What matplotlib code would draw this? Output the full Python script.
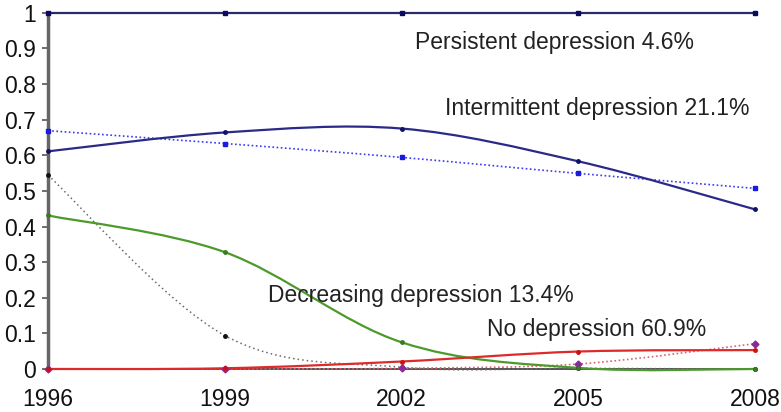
import matplotlib.pyplot as plt
import numpy as np
from matplotlib.patches import PathPatch
from matplotlib.path import Path

plt.rcParams["font.family"] = ["Liberation Sans", "DejaVu Sans"]

YEARS = [1996, 1999, 2002, 2005, 2008]

# estimated trajectories (solid) and observed proportions (dotted)
persistent = [1.0, 1.0, 1.0, 1.0, 1.0]
intermittent = [0.611, 0.664, 0.675, 0.583, 0.448]
intermittent_obs = [0.669, 0.633, 0.594, 0.549, 0.507]
decreasing = [0.431, 0.328, 0.075, 0.003, 0.0]
decreasing_obs = [0.544, 0.094, 0.005, 0.002, 0.0]
no_depression = [0.0, 0.002, 0.021, 0.049, 0.053]
no_depression_obs = [0.0, 0.0, 0.002, 0.014, 0.071]

LABELS = [
    ("Persistent depression 4.6%", 2002.23, 0.917),
    ("Intermittent depression 21.1%", 2002.74, 0.732),
    ("Decreasing depression 13.4%", 1999.73, 0.207),
    ("No depression 60.9%", 2003.45, 0.112),
]

Y_TICKS = [0, 0.1, 0.2, 0.3, 0.4, 0.5, 0.6, 0.7, 0.8, 0.9, 1]
Y_TICK_LABELS = ["0", "0.1", "0.2", "0.3", "0.4", "0.5", "0.6", "0.7", "0.8", "0.9", "1"]


def smooth_path(xs, ys):
    # Excel-style smoothed line: cubic Bezier segments through the points
    pts = np.column_stack([xs, ys]).astype(float)
    n = len(pts)
    verts = [pts[0]]
    codes = [Path.MOVETO]
    for i in range(n - 1):
        p0 = pts[i - 1] if i > 0 else pts[i]
        p1 = pts[i]
        p2 = pts[i + 1]
        p3 = pts[i + 2] if i + 2 < n else pts[i + 1]
        c1 = p1 + (p2 - p0) / 6.0
        c2 = p2 - (p3 - p1) / 6.0
        verts += [c1, c2, p2]
        codes += [Path.CURVE4] * 3
    return Path(verts, codes)


def draw_series(ax, values, color, lw, ls, marker, msize, mcolor, smooth=True):
    if smooth:
        patch = PathPatch(smooth_path(YEARS, values), fill=False, edgecolor=color,
                          lw=lw, ls=ls, clip_on=False, zorder=3)
        ax.add_patch(patch)
    else:
        ax.plot(YEARS, values, color=color, lw=lw, ls=ls, clip_on=False, zorder=3)
    ax.plot(YEARS, values, ls="none", marker=marker, ms=msize, color=mcolor,
            clip_on=False, zorder=4)


fig = plt.figure(figsize=(7.81, 4.12), dpi=100)
ax = fig.add_axes([0.0615, 0.1044, 0.9053, 0.8646])

draw_series(ax, intermittent_obs, "#3a3af5", 1.2, (0, (1, 1.5)), "s", 3, "#1a1ae0")
draw_series(ax, decreasing_obs, "#6a6a6a", 1.1, (0, (1, 2)), "o", 2.5, "#111111")
draw_series(ax, no_depression_obs, "#e06070", 1.2, (0, (1, 1.5)), "D", 3.5, "#8a2a9a")
draw_series(ax, decreasing, "#4c9a2c", 1.6, "-", "o", 2.5, "#3a7a20")
draw_series(ax, no_depression, "#dd2a2a", 1.6, "-", "o", 2.5, "#cc1111")
draw_series(ax, intermittent, "#2a2a88", 1.6, "-", "o", 2.5, "#111166")
draw_series(ax, persistent, "#2a2a66", 1.6, "-", "s", 3.5, "#0a0a60", smooth=False)

for text, x, y in LABELS:
    ax.text(x, y, text, fontsize=16.5, color="#222222", ha="left", va="center")

ax.set_xlim(1996, 2008)
ax.set_ylim(0, 1)
ax.set_xticks(YEARS)
ax.set_xticklabels([str(y) for y in YEARS])
ax.set_yticks(Y_TICKS)
ax.set_yticklabels(Y_TICK_LABELS)
ax.tick_params(axis="x", length=0, pad=14, labelsize=16.5, colors="#111111")
ax.tick_params(axis="y", length=4, width=1.2, pad=5, labelsize=16.5, colors="#111111",
               color="#555555")

for side in ["top", "right"]:
    ax.spines[side].set_visible(False)
ax.spines["left"].set_color("#666666")
ax.spines["left"].set_linewidth(2.5)
ax.spines["bottom"].set_color("#333333")
ax.spines["bottom"].set_linewidth(1.2)

fig.savefig("out.png", dpi=100)
